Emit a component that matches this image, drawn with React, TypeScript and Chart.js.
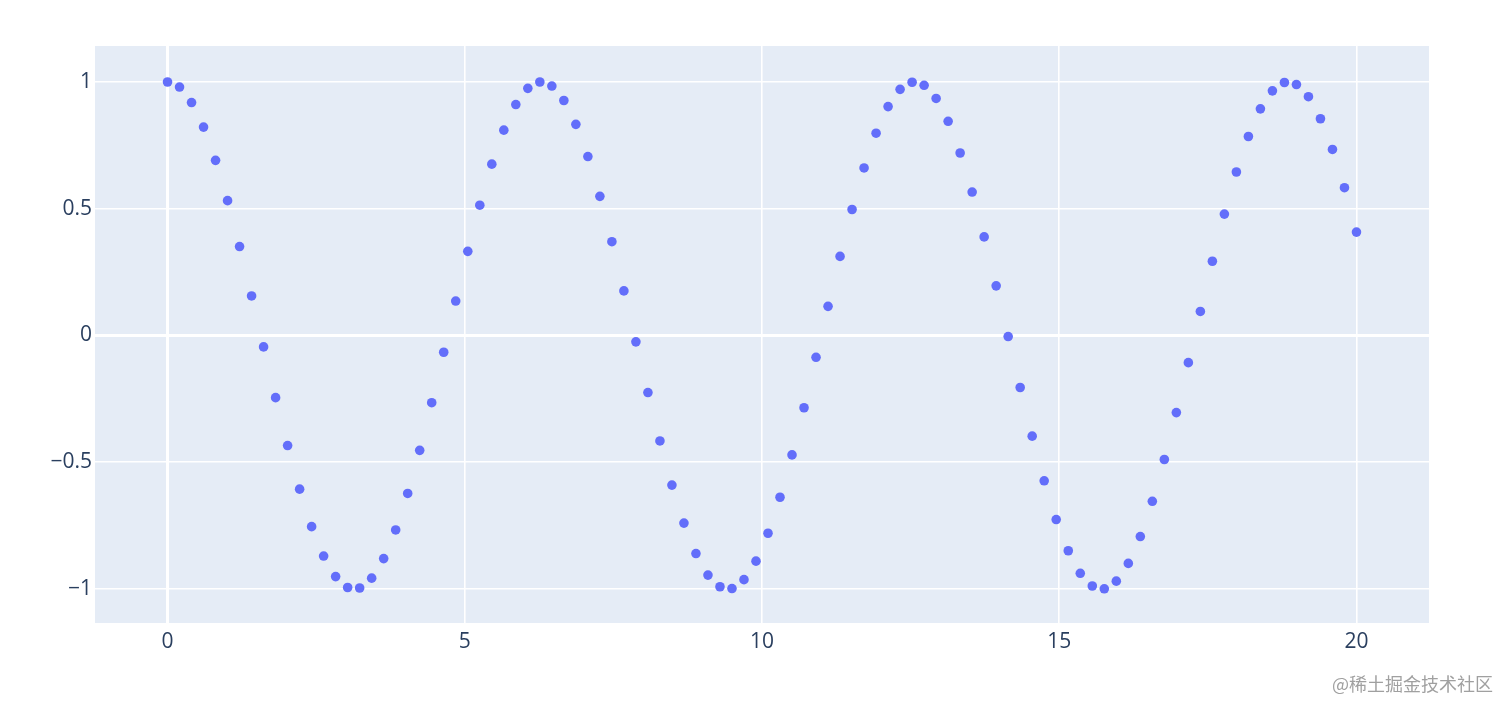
import React, { useEffect, useRef } from "react";
import { Chart, registerables } from "chart.js";

Chart.register(...registerables);

const xValues = [
  0, 0.202, 0.404, 0.606, 0.808, 1.01, 1.212, 1.414, 1.616, 1.818,
  2.02, 2.222, 2.424, 2.626, 2.828, 3.03, 3.232, 3.434, 3.636, 3.838,
  4.04, 4.242, 4.444, 4.646, 4.848, 5.051, 5.253, 5.455, 5.657, 5.859,
  6.061, 6.263, 6.465, 6.667, 6.869, 7.071, 7.273, 7.475, 7.677, 7.879,
  8.081, 8.283, 8.485, 8.687, 8.889, 9.091, 9.293, 9.495, 9.697, 9.899,
  10.101, 10.303, 10.505, 10.707, 10.909, 11.111, 11.313, 11.515, 11.717, 11.919,
  12.121, 12.323, 12.525, 12.727, 12.929, 13.131, 13.333, 13.535, 13.737, 13.939,
  14.141, 14.343, 14.545, 14.747, 14.949, 15.152, 15.354, 15.556, 15.758, 15.96,
  16.162, 16.364, 16.566, 16.768, 16.97, 17.172, 17.374, 17.576, 17.778, 17.98,
  18.182, 18.384, 18.586, 18.788, 18.99, 19.192, 19.394, 19.596, 19.798, 20,
];

const yValues = [
  1.0, 0.98, 0.919, 0.822, 0.691, 0.532, 0.351, 0.156, -0.045, -0.245,
  -0.434, -0.606, -0.754, -0.87, -0.951, -0.994, -0.996, -0.957, -0.88, -0.767,
  -0.623, -0.453, -0.265, -0.066, 0.136, 0.332, 0.514, 0.676, 0.81, 0.911,
  0.975, 1.0, 0.984, 0.927, 0.833, 0.706, 0.549, 0.37, 0.176, -0.025,
  -0.225, -0.416, -0.59, -0.74, -0.86, -0.945, -0.991, -0.998, -0.963, -0.89,
  -0.78, -0.638, -0.471, -0.285, -0.086, 0.115, 0.312, 0.497, 0.661, 0.798,
  0.903, 0.971, 0.999, 0.987, 0.935, 0.845, 0.72, 0.566, 0.389, 0.196,
  -0.004, -0.205, -0.397, -0.573, -0.726, -0.849, -0.938, -0.988, -0.999, -0.969,
  -0.899, -0.793, -0.654, -0.489, -0.304, -0.107, 0.095, 0.293, 0.479, 0.645,
  0.785, 0.894, 0.965, 0.998, 0.99, 0.942, 0.855, 0.734, 0.583, 0.408,
];

const xTicks = [0, 5, 10, 15, 20];
const yTicks = [-1, -0.5, 0, 0.5, 1];

const FONT = "'Open Sans', 'Noto Sans', sans-serif";
const TEXT = "#2a3f5f";

const bgPlugin = {
  id: "plotBg",
  beforeDraw(chart: any) {
    const { ctx, chartArea } = chart;
    if (!chartArea) return;
    ctx.save();
    ctx.fillStyle = "#E5ECF6";
    ctx.fillRect(chartArea.left, chartArea.top, chartArea.right - chartArea.left, chartArea.bottom - chartArea.top);
    ctx.restore();
  },
};

export default function App() {
  const ref = useRef<HTMLCanvasElement>(null);

  useEffect(() => {
    if (!ref.current) return;
    const chart = new Chart(ref.current, {
      type: "scatter",
      data: {
        datasets: [
          {
            data: xValues.map((x, i) => ({ x, y: yValues[i] })),
            backgroundColor: "#636efa",
            borderWidth: 0,
            pointRadius: 4.8,
            pointHoverRadius: 4.8,
          },
        ],
      },
      options: {
        responsive: false,
        animation: false,
        maintainAspectRatio: false,
        layout: { padding: { left: 0, top: 46, right: 83, bottom: 0 } },
        plugins: { legend: { display: false }, tooltip: { enabled: false } },
        scales: {
          x: {
            type: "linear",
            min: -1.22,
            max: 21.22,
            afterFit: (s: any) => {
              s.height = 90;
            },
            afterBuildTicks: (s: any) => {
              s.ticks = xTicks.map((v) => ({ value: v }));
            },
            border: { display: false },
            grid: {
              color: "#ffffff",
              lineWidth: (c: any) => (c.tick && c.tick.value === 0 ? 3 : 1.6),
              drawTicks: false,
            },
            ticks: {
              padding: 6,
              color: TEXT,
              font: { family: FONT, size: 21 },
              callback: (v: any) => String(v).replace("-", "\u2212"),
            },
          },
          y: {
            type: "linear",
            min: -1.134,
            max: 1.142,
            afterFit: (s: any) => {
              s.width = 95;
            },
            afterBuildTicks: (s: any) => {
              s.ticks = yTicks.map((v) => ({ value: v }));
            },
            border: { display: false },
            grid: {
              color: "#ffffff",
              lineWidth: (c: any) => (c.tick && c.tick.value === 0 ? 3 : 1.6),
              drawTicks: false,
            },
            ticks: {
              padding: 3,
              color: TEXT,
              font: { family: FONT, size: 21 },
              callback: (v: any) => String(v).replace("-", "\u2212"),
            },
          },
        },
      },
      plugins: [bgPlugin],
    });
    return () => chart.destroy();
  }, []);

  return (
    <div style={{ position: "fixed", left: 0, top: 0, width: 1512, height: 713, background: "#ffffff" }}>
      <canvas ref={ref} width={1512} height={713} style={{ display: "block" }} />
      <div
        style={{
          position: "absolute",
          left: 1332,
          top: 670,
          fontFamily: "'Noto Sans CJK SC', sans-serif",
          fontSize: 18,
          color: "#a0a0a0",
          whiteSpace: "nowrap",
        }}
      >
        @稀土掘金技术社区
      </div>
    </div>
  );
}
